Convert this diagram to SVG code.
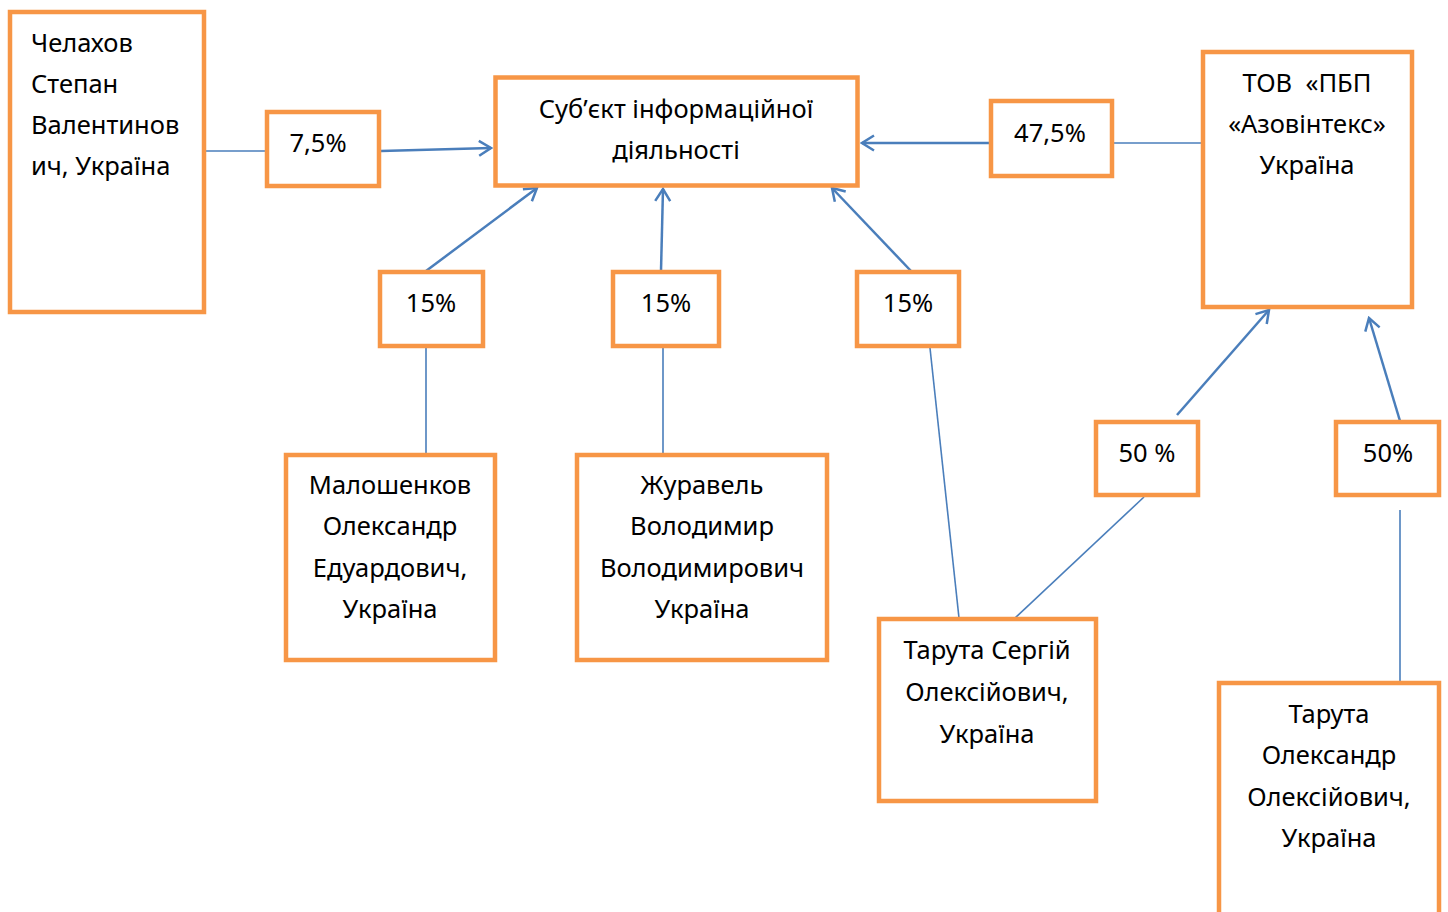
<svg xmlns="http://www.w3.org/2000/svg" width="1448" height="912" viewBox="0 0 1448 912">
<style>
.box{fill:#fff;stroke:#F79646;stroke-width:4.5}
.t{font-family:"Noto Sans","Open Sans","DejaVu Sans",sans-serif;font-size:25.5px;fill:#000}
.c{text-anchor:middle}
.ln{stroke:#4A7EBB;stroke-width:1.6;fill:none}
.ar{stroke:#4A7EBB;stroke-width:2.5;fill:none;marker-end:url(#open)}
</style>
<defs>
<marker id="open" viewBox="-14 -9 16 18" refX="0" refY="0" markerWidth="16" markerHeight="18" markerUnits="userSpaceOnUse" orient="auto">
<path d="M-12,-7.5 L0,0 L-12,7.5" fill="none" stroke="#4A7EBB" stroke-width="2.5"/>
</marker>
</defs>
<rect width="1448" height="912" fill="#fff"/>
<g id="connectors">
<line class="ln" x1="206" y1="151" x2="267" y2="151"/>
<line class="ar" x1="381" y1="151" x2="491" y2="148"/>
<line class="ar" x1="990" y1="143" x2="862" y2="143"/>
<line class="ln" x1="1113" y1="143" x2="1203" y2="143"/>
<line class="ar" x1="426" y1="271" x2="537" y2="188"/>
<line class="ar" x1="661" y1="271" x2="663" y2="189"/>
<line class="ar" x1="911" y1="271" x2="832" y2="188"/>
<line class="ln" x1="426" y1="348" x2="426" y2="454"/>
<line class="ln" x1="663" y1="348" x2="663" y2="454"/>
<line class="ln" x1="930" y1="348" x2="959" y2="618"/>
<line class="ar" x1="1177" y1="415" x2="1269" y2="310"/>
<line class="ar" x1="1400" y1="421" x2="1369" y2="318"/>
<line class="ln" x1="1144" y1="497" x2="1015" y2="618"/>
<line class="ln" x1="1400" y1="510" x2="1400" y2="683"/>
</g>
<g id="chelakhov">
<rect class="box" x="10" y="12" width="194" height="300"/>
<text class="t" x="31" y="52">Челахов</text>
<text class="t" x="31" y="93">Степан</text>
<text class="t" x="31" y="134">Валентинов</text>
<text class="t" x="31" y="175">ич, Україна</text>
</g>
<g id="p75">
<rect class="box" x="267" y="112" width="112" height="74"/>
<text class="t c" x="318" y="152">7,5%</text>
</g>
<g id="subject">
<rect class="box" x="495.5" y="77.5" width="362" height="108"/>
<text class="t c" x="676" y="118">Суб’єкт інформаційної</text>
<text class="t c" x="676" y="159">діяльності</text>
</g>
<g id="p475">
<rect class="box" x="991" y="101" width="121" height="75"/>
<text class="t c" x="1050" y="142">47,5%</text>
</g>
<g id="tov">
<rect class="box" x="1203" y="52" width="209" height="255"/>
<text class="t c" x="1307" y="92" xml:space="preserve">ТОВ  «ПБП</text>
<text class="t c" x="1307" y="133">«Азовінтекс»</text>
<text class="t c" x="1307" y="174">Україна</text>
</g>
<g id="p15a">
<rect class="box" x="380" y="272" width="103" height="74"/>
<text class="t c" x="431" y="312">15%</text>
</g>
<g id="p15b">
<rect class="box" x="613" y="272" width="106" height="74"/>
<text class="t c" x="666" y="312">15%</text>
</g>
<g id="p15c">
<rect class="box" x="857" y="272" width="102" height="74"/>
<text class="t c" x="908" y="312">15%</text>
</g>
<g id="maloshenkov">
<rect class="box" x="286" y="455" width="209" height="205"/>
<text class="t c" x="390" y="494">Малошенков</text>
<text class="t c" x="390" y="535">Олександр</text>
<text class="t c" x="390" y="577">Едуардович,</text>
<text class="t c" x="390" y="618">Україна</text>
</g>
<g id="zhuravel">
<rect class="box" x="577" y="455" width="250" height="205"/>
<text class="t c" x="702" y="494">Журавель</text>
<text class="t c" x="702" y="535">Володимир</text>
<text class="t c" x="702" y="577">Володимирович</text>
<text class="t c" x="702" y="618">Україна</text>
</g>
<g id="p50a">
<rect class="box" x="1096" y="422" width="102" height="73"/>
<text class="t c" x="1147" y="462">50 %</text>
</g>
<g id="p50b">
<rect class="box" x="1336" y="422" width="103" height="73"/>
<text class="t c" x="1388" y="462">50%</text>
</g>
<g id="taruta-s">
<rect class="box" x="879" y="619" width="217" height="182"/>
<text class="t c" x="987" y="659">Тарута Сергій</text>
<text class="t c" x="987" y="701">Олексійович,</text>
<text class="t c" x="987" y="743">Україна</text>
</g>
<g id="taruta-o">
<rect class="box" x="1219" y="683" width="220" height="245"/>
<text class="t c" x="1329" y="723">Тарута</text>
<text class="t c" x="1329" y="764">Олександр</text>
<text class="t c" x="1329" y="806">Олексійович,</text>
<text class="t c" x="1329" y="847">Україна</text>
</g>
</svg>
